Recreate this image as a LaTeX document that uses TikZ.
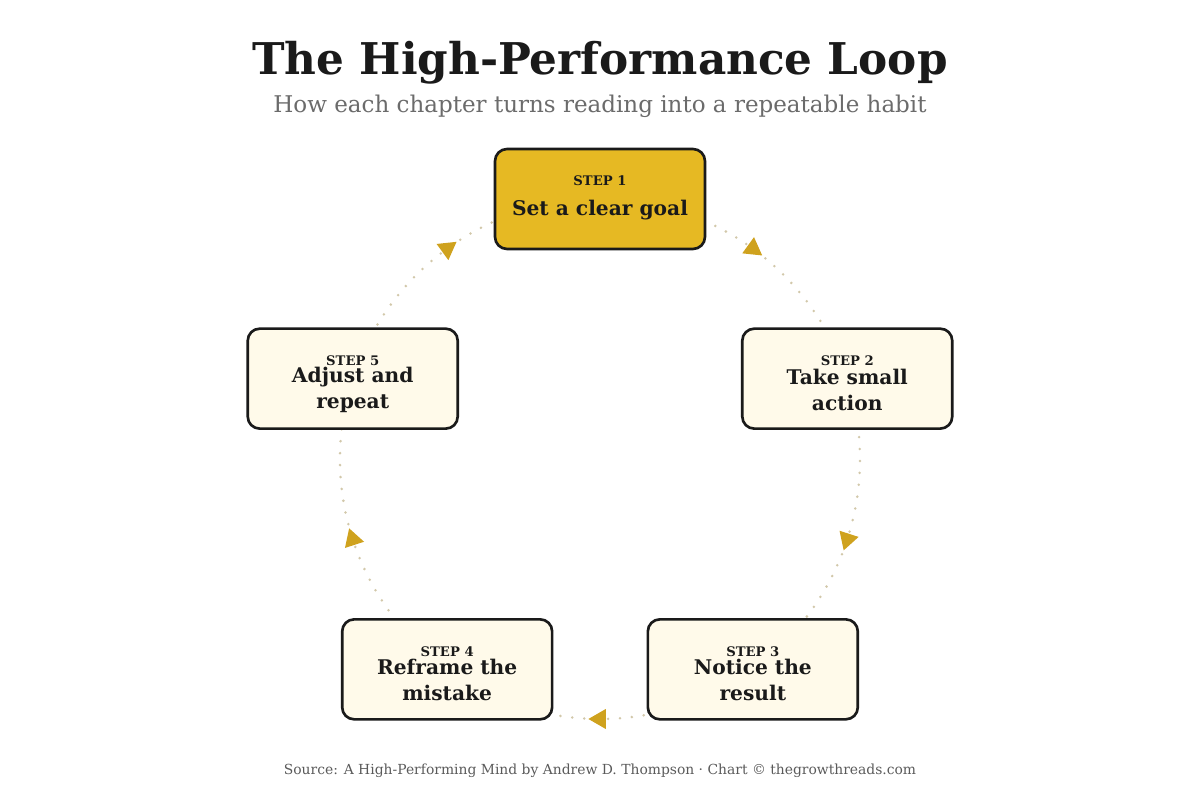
\documentclass[tikz,border=0pt]{standalone}
\usepackage{fontspec}
\setmainfont{DejaVu Serif}
\usetikzlibrary{decorations.markings,backgrounds}
\definecolor{goalgold}{HTML}{E6B923}
\definecolor{tipgold}{HTML}{CFA21E}
\definecolor{cream}{HTML}{FFFAEA}
\definecolor{ink}{HTML}{1A1A1A}
\definecolor{dotgrey}{HTML}{D2C8AA}
\definecolor{subgrey}{HTML}{6B6B6B}
\definecolor{srcgrey}{HTML}{5A5A5A}
\begin{document}
\begin{tikzpicture}[x=0.02cm,y=0.02cm,
  box/.style={draw=ink, line width=1.5pt, rounded corners=0.24cm, fill=cream, minimum width=4.2cm, minimum height=2cm, inner sep=0pt},
  tag/.style={font=\bfseries\fontsize{7.5}{9}\selectfont, text=ink},
  txt/.style={font=\bfseries\fontsize{11.5}{14.8}\selectfont, text=ink, align=center},
  loopline/.style={dotgrey, line width=1.6pt, line cap=round, dash pattern=on 0pt off 6.8pt,
    postaction={decorate}, decoration={markings, mark=at position 0.5 with {\fill[tipgold] (6.6pt,0) -- (-3.3pt,5.7pt) -- (-3.3pt,-5.7pt) -- cycle;}}}]
      \useasboundingbox (-600,-341) rectangle (600,459);
      \node[font=\bfseries\fontsize{24.9}{30}\selectfont, text=ink] (title) at (0,396){The High-Performance Loop};
      \node[font=\fontsize{13.1}{16}\selectfont, text=subgrey] (subtitle) at (0,353){How each chapter turns reading into a repeatable habit};

      \node[box, fill=goalgold] (st1) at (90:260){};
      \node[box] (st2) at (18:260){};
      \node[box] (st3) at (-54:260){};
      \node[box] (st4) at (-126:260){};
      \node[box] (st5) at (162:260){};

      \begin{scope}[on background layer]
      \draw[loopline] (st1.center) arc[start angle=90, end angle=18, radius=260];
      \draw[loopline] (st2.center) arc[start angle=18, end angle=-54, radius=260];
      \draw[loopline] (st3.center) arc[start angle=-54, end angle=-126, radius=260];
      \draw[loopline] (st4.center) arc[start angle=-126, end angle=-198, radius=260];
      \draw[loopline] (st5.center) arc[start angle=162, end angle=90, radius=260];
      \end{scope}

      \node[tag] (tag1) at ([yshift=0.36cm]st1.center){STEP 1};
      \node[txt] (txt1) at ([yshift=-0.22cm]st1.center){Set a clear goal};
      \node[tag] (tag2) at ([yshift=0.36cm]st2.center){STEP 2};
      \node[txt] (txt2) at ([yshift=-0.22cm]st2.center){Take small\\action};
      \node[tag] (tag3) at ([yshift=0.36cm]st3.center){STEP 3};
      \node[txt] (txt3) at ([yshift=-0.22cm]st3.center){Notice the\\result};
      \node[tag] (tag4) at ([yshift=0.36cm]st4.center){STEP 4};
      \node[txt] (txt4) at ([yshift=-0.22cm]st4.center){Reframe the\\mistake};
      \node[tag] (tag5) at ([yshift=0.36cm]st5.center){STEP 5};
      \node[txt] (txt5) at ([yshift=-0.22cm]st5.center){Adjust and\\repeat};

      \node[font=\fontsize{7.9}{9}\selectfont, text=srcgrey] (source) at (0,-312){Source: A High-Performing Mind by Andrew D. Thompson \textperiodcentered{} Chart \textcopyright{} thegrowthreads.com};
    \end{tikzpicture}
\end{document}
